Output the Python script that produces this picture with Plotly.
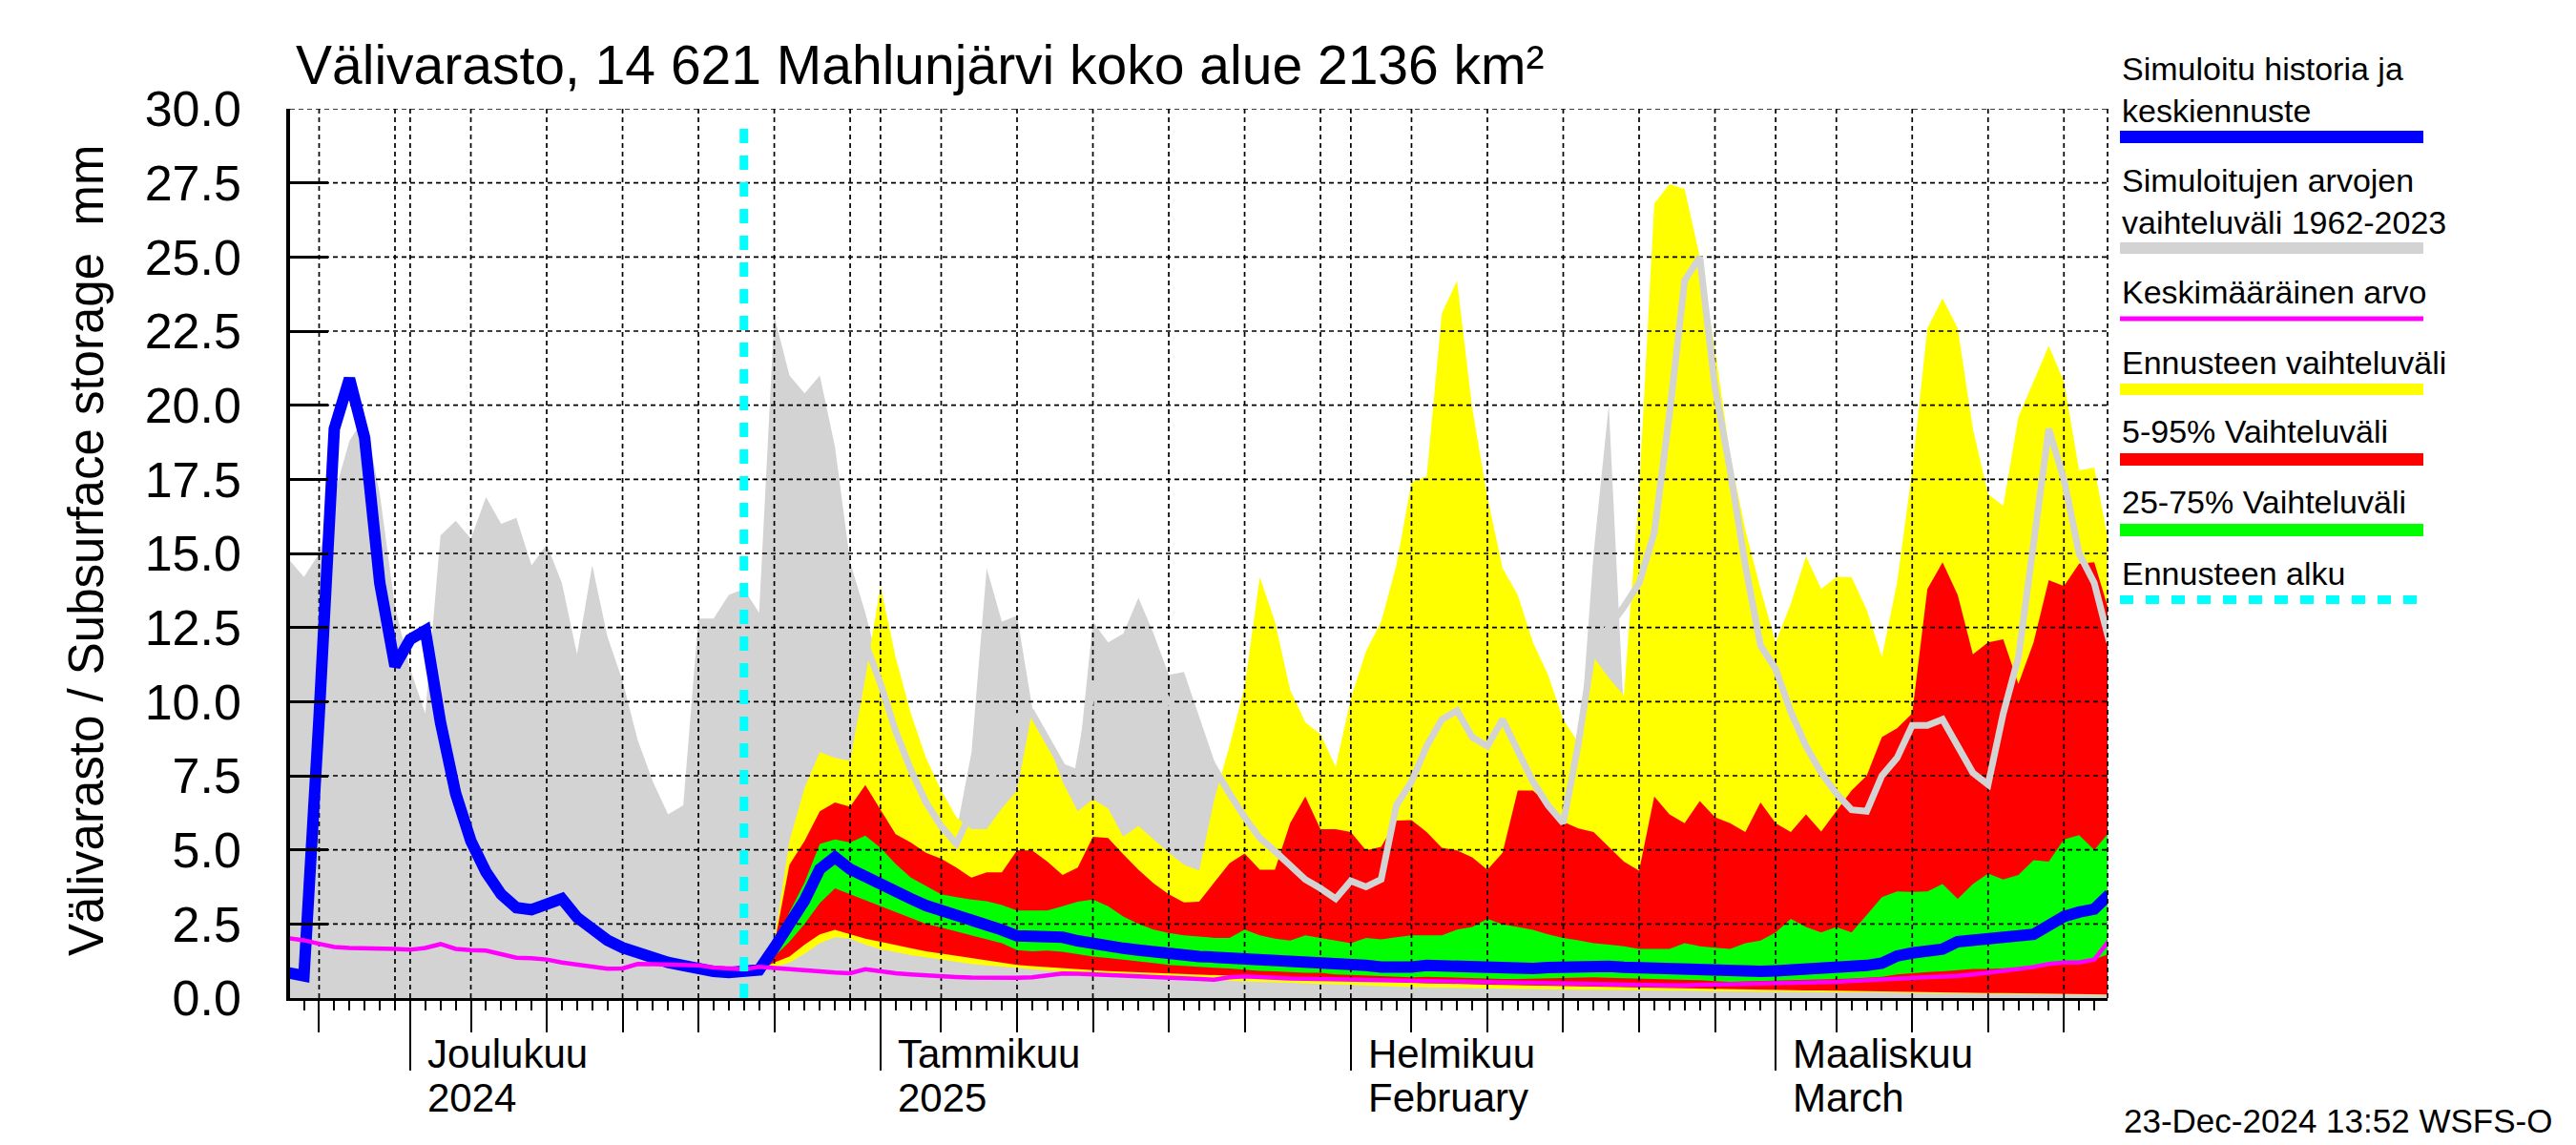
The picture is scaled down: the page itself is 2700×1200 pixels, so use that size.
import plotly.graph_objects as go
import pandas as pd

# ---------------- data ----------------
hist_start = "2024-11-23"          # daily values from this date
gray_upper = [  # historical range 1962-2023, upper edge (lower edge = 0)
    14.8, 14.2, 15.0, 17.0, 18.8, 19.6, 17.0, 13.2, 11.1, 9.6,
    15.6, 16.1, 15.5, 16.9, 16.0, 16.2, 14.6, 15.3, 14.0, 11.6,
    14.6, 12.2, 10.7, 8.7, 7.3, 6.2, 6.5, 12.8, 12.8, 13.6,
    13.8, 13.0, 23.0, 21.0, 20.4, 21.0, 18.6, 14.7, 13.0, 11.0,
    9.0, 7.2, 6.3, 5.8, 5.6, 8.3, 14.5, 12.7, 12.9, 9.8,
    8.8, 7.8, 7.7, 12.7, 12.0, 12.3, 13.5, 12.3, 10.9, 11.0,
    9.5, 8.0, 6.5, 6.0, 6.0, 6.0, 6.0, 6.0, 6.0, 6.0,
    6.0, 6.0, 6.0, 6.0, 6.0, 6.0, 6.0, 6.0, 6.0, 6.0,
    6.0, 6.0, 6.0, 6.0, 6.0, 8.0, 15.0, 20.0, 9.5, 6.0,
    6.0, 6.0, 6.0, 6.0, 6.0, 6.0, 6.0, 6.0, 6.0, 6.0,
    6.0, 6.0, 6.0, 6.0, 6.0, 6.0, 6.0, 6.0, 6.0, 6.0,
    6.0, 6.0, 6.0, 6.0, 6.0, 6.0, 6.0, 6.0, 6.0, 6.0,
    6.0,
]
median = [  # simulated history + median forecast
    0.85, 0.75, 9.5, 19.2, 20.9, 18.9, 14.0, 11.2, 12.1, 12.4,
    9.3, 6.9, 5.3, 4.25, 3.5, 3.05, 2.98, 3.2, 3.35, 2.72,
    2.3, 1.95, 1.7, 1.5, 1.33, 1.2, 1.1, 0.98, 0.9, 0.86,
    0.88, 0.95, 1.7, 2.55, 3.3, 4.35, 4.75, 4.35, 4.08, 3.85,
    3.6, 3.35, 3.12, 2.97, 2.82, 2.66, 2.48, 2.3, 2.1, 2.08,
    2.1, 2.05, 1.93, 1.82, 1.75, 1.68, 1.62, 1.55, 1.48, 1.44,
    1.4, 1.38, 1.36, 1.3, 1.27, 1.25, 1.22, 1.2, 1.2, 1.15,
    1.12, 1.1, 1.05, 1.03, 1.05, 1.1, 1.08, 1.05, 1.02, 1.0,
    0.99, 0.98, 1.0, 1.03, 1.05, 1.08, 1.1, 1.07, 1.04, 1.02,
    1.0, 0.99, 0.98, 0.95, 0.9, 0.87, 0.88, 0.9, 0.92, 0.94,
    0.96, 0.98, 1.02, 1.06, 1.1, 1.18, 1.42, 1.52, 1.58, 1.65,
    1.9, 1.96, 1.94, 2.0, 2.06, 2.15, 2.45, 2.75, 2.9, 3.0,
    3.5,
]
mean_value = [  # long-term mean
    2.02, 1.95, 1.83, 1.72, 1.69, 1.69, 1.69, 1.66, 1.63, 1.69,
    1.82, 1.66, 1.62, 1.6, 1.48, 1.36, 1.34, 1.3, 1.2, 1.12,
    1.06, 0.99, 1.0, 1.15, 1.14, 1.13, 1.12, 1.1, 1.03, 0.99,
    0.97, 1.05, 1.02, 0.98, 0.93, 0.9, 0.86, 0.84, 0.97, 0.9,
    0.84, 0.8, 0.76, 0.73, 0.71, 0.69, 0.68, 0.68, 0.68, 0.7,
    0.76, 0.83, 0.82, 0.81, 0.79, 0.76, 0.73, 0.7, 0.68, 0.66,
    0.64, 0.62, 0.7, 0.73, 0.7, 0.68, 0.66, 0.65, 0.64, 0.63,
    0.62, 0.61, 0.6, 0.59, 0.58, 0.57, 0.56, 0.55, 0.55, 0.53,
    0.52, 0.51, 0.5, 0.48, 0.47, 0.46, 0.45, 0.45, 0.44, 0.44,
    0.43, 0.43, 0.43, 0.44, 0.45, 0.45, 0.46, 0.48, 0.5, 0.51,
    0.52, 0.53, 0.55, 0.58, 0.6, 0.64, 0.66, 0.67, 0.68, 0.7,
    0.75, 0.8, 0.85, 0.92, 0.98, 1.05, 1.15, 1.2, 1.2, 1.3,
    1.95,
]

fc_start = "2024-12-23"            # forecast start, daily values from this date
yellow_low = [
    0.88, 0.93, 1.05, 1.2, 1.5, 1.85, 2.05, 2.0, 1.8, 1.65,
    1.55, 1.45, 1.38, 1.3, 1.22, 1.15, 1.1, 1.05, 1.0, 0.97,
    0.93, 0.9, 0.87, 0.84, 0.8, 0.77, 0.73, 0.69, 0.65, 0.63,
    0.61, 0.6, 0.58, 0.56, 0.55, 0.53, 0.51, 0.49, 0.47, 0.46,
    0.44, 0.42, 0.4, 0.38, 0.37, 0.36, 0.35, 0.34, 0.33, 0.32,
    0.31, 0.3, 0.3, 0.3, 0.29, 0.28, 0.28, 0.27, 0.27, 0.26,
    0.26, 0.25, 0.25, 0.24, 0.24, 0.23, 0.23, 0.22, 0.22, 0.21,
    0.21, 0.2, 0.2, 0.19, 0.19, 0.18, 0.18, 0.17, 0.17, 0.16,
    0.16, 0.15, 0.15, 0.14, 0.14, 0.13, 0.13, 0.12, 0.12, 0.11,
    0.11,
]
yellow_up = [
    0.88, 0.95, 1.9, 5.3, 7.1, 8.3, 8.1, 8.0, 10.8, 13.9,
    11.5, 9.6, 8.1, 7.0, 6.1, 5.7, 5.7, 6.4, 7.0, 9.7,
    8.7, 7.3, 6.3, 6.7, 6.4, 5.45, 5.8, 5.35, 4.9, 4.5,
    4.3, 6.7, 8.5, 10.5, 14.2, 12.7, 10.4, 9.3, 8.9, 7.8,
    10.1, 11.7, 12.7, 14.6, 17.4, 17.6, 23.1, 24.2, 19.9, 16.9,
    14.5, 13.6, 12.0, 10.9, 9.4, 8.6, 11.5, 10.8, 10.2, 17.1,
    26.8, 27.46, 27.3, 25.0, 21.9, 18.3, 15.8, 13.8, 12.0, 13.3,
    14.9, 13.8, 14.2, 14.2, 13.1, 11.5, 14.0, 17.8, 22.6, 23.6,
    22.6, 19.2, 17.0, 16.6, 19.6, 20.8, 22.0, 20.8, 17.8, 17.9,
    15.2,
]
red_low = [
    0.88, 0.94, 1.2, 1.4, 1.8, 2.15, 2.3, 2.15, 2.0, 1.9,
    1.78, 1.68, 1.58, 1.5, 1.42, 1.35, 1.28, 1.2, 1.12, 1.08,
    1.04, 1.0, 0.97, 0.94, 0.91, 0.89, 0.87, 0.85, 0.83, 0.8,
    0.78, 0.76, 0.74, 0.72, 0.7, 0.68, 0.66, 0.64, 0.62, 0.6,
    0.58, 0.56, 0.55, 0.53, 0.52, 0.5, 0.49, 0.47, 0.46, 0.45,
    0.44, 0.43, 0.42, 0.41, 0.4, 0.39, 0.38, 0.37, 0.36, 0.35,
    0.35, 0.34, 0.33, 0.32, 0.31, 0.3, 0.3, 0.29, 0.28, 0.27,
    0.26, 0.26, 0.25, 0.24, 0.23, 0.23, 0.22, 0.21, 0.2, 0.2,
    0.19, 0.18, 0.17, 0.17, 0.16, 0.15, 0.14, 0.14, 0.13, 0.12,
    0.12,
]
red_up = [
    0.88, 0.95, 1.8, 4.5, 5.3, 6.3, 6.6, 6.45, 7.19, 6.36,
    5.53, 5.25, 4.9, 4.7, 4.4, 4.06, 4.24, 4.24, 4.98, 4.98,
    4.6, 4.15, 4.4, 5.44, 5.4, 4.85, 4.33, 3.87, 3.5, 3.23,
    3.25, 3.9, 4.55, 4.88, 4.33, 4.33, 5.9, 6.8, 5.7, 5.7,
    5.6, 4.98, 5.1, 5.99, 6.0, 5.6, 5.07, 4.98, 4.75, 4.33,
    4.9, 7.0, 7.0, 6.54, 5.95, 5.72, 5.6, 5.1, 4.6, 4.3,
    6.8, 6.2, 5.9, 6.65, 6.1, 5.9, 5.6, 6.6, 5.9, 5.6,
    6.2, 5.62, 6.3, 7.0, 7.5, 8.8, 9.1, 9.6, 13.8, 14.7,
    13.6, 11.6, 12.0, 12.1, 10.6, 12.0, 14.1, 13.9, 14.65, 14.7,
    13.0,
]
green_low = [
    0.88, 0.94, 1.4, 1.9, 2.5, 3.2, 3.7, 3.5, 3.3, 3.1,
    2.9, 2.7, 2.5, 2.38, 2.25, 2.12, 1.98, 1.85, 1.62, 1.58,
    1.6, 1.56, 1.48, 1.4, 1.35, 1.3, 1.25, 1.18, 1.12, 1.08,
    1.05, 1.02, 1.0, 0.95, 0.92, 0.9, 0.87, 0.85, 0.85, 0.8,
    0.78, 0.76, 0.72, 0.7, 0.7, 0.72, 0.7, 0.68, 0.66, 0.65,
    0.64, 0.64, 0.65, 0.66, 0.67, 0.68, 0.7, 0.68, 0.66, 0.65,
    0.64, 0.63, 0.62, 0.6, 0.57, 0.55, 0.56, 0.57, 0.58, 0.6,
    0.61, 0.62, 0.64, 0.66, 0.68, 0.72, 0.8, 0.85, 0.88, 0.9,
    0.95, 0.98, 0.98, 1.0, 1.02, 1.05, 1.1, 1.2, 1.25, 1.3,
    1.5,
]
green_up = [
    0.88, 0.95, 1.75, 2.9, 3.9, 5.2, 5.35, 5.25, 5.48, 5.07,
    4.52, 4.06, 3.78, 3.5, 3.4, 3.32, 3.27, 3.14, 2.95, 2.95,
    2.95, 3.1, 3.25, 3.32, 3.1, 2.75, 2.5, 2.31, 2.2, 2.12,
    2.07, 2.03, 2.03, 2.31, 2.12, 2.0, 1.94, 2.12, 2.03, 1.95,
    1.85, 2.03, 1.98, 2.05, 2.12, 2.12, 2.12, 2.31, 2.4, 2.67,
    2.49, 2.4, 2.3, 2.15, 2.03, 1.95, 1.85, 1.8, 1.75, 1.66,
    1.66, 1.66, 1.85, 1.75, 1.7, 1.66, 1.85, 1.94, 2.21, 2.67,
    2.4, 2.21, 2.4, 2.21, 2.8, 3.4, 3.6, 3.58, 3.6, 3.85,
    3.35, 3.85, 4.2, 4.0, 4.15, 4.65, 4.6, 5.35, 5.5, 5.0,
    5.6,
]
ref_line_start = "2024-12-31"       # light gray reference line in forecast period
ref_line = [
    12.0, 10.6, 9.0, 7.7, 6.6, 5.8, 5.2, 6.3, 7.0, 8.3,
    9.5, 9.6, 8.7, 7.8, 7.6, 10.5, 10.8, 11.0, 11.2, 10.8,
    10.0, 9.5, 8.6, 7.8, 6.9, 6.1, 5.4, 4.95, 4.5, 4.0,
    3.7, 3.35, 3.95, 3.75, 4.0, 6.5, 7.3, 8.5, 9.4, 9.7,
    8.8, 8.5, 9.4, 8.4, 7.3, 6.5, 5.9, 8.6, 11.9, 12.5,
    13.2, 14.0, 15.7, 19.7, 24.2, 25.0, 20.6, 17.8, 14.6, 11.9,
    11.1, 9.65, 8.5, 7.6, 6.9, 6.35, 6.3, 7.5, 8.1, 9.2,
    9.2, 9.4, 8.5, 7.6, 7.2, 9.6, 11.5, 15.5, 19.2, 17.5,
    15.0, 14.0, 12.0,
]
forecast_line_top = 29.6

y_ticks = [0.0, 2.5, 5.0, 7.5, 10.0, 12.5, 15.0, 17.5, 20.0, 22.5, 25.0, 27.5, 30.0]
month_ticks = ["2024-12-01", "2025-01-01", "2025-02-01", "2025-03-01"]
month_labels_1 = ["Joulukuu", "Tammikuu", "Helmikuu", "Maaliskuu"]
month_labels_2 = ["2024", "2025", "February", "March"]
x_range = ["2024-11-23 02:00", "2025-03-22 21:00"]

title_text = "Välivarasto, 14 621 Mahlunjärvi koko alue 2136 km²"
ytitle_text = "Välivarasto / Subsurface storage\u00a0 mm"
stamp_text = "23-Dec-2024 13:52 WSFS-O"
legend_labels = ["Simuloitu historia ja<br>keskiennuste",
                 "Simuloitujen arvojen<br>vaihteluväli 1962-2023",
                 "Keskimääräinen arvo",
                 "Ennusteen vaihteluväli",
                 "5-95% Vaihteluväli",
                 "25-75% Vaihteluväli",
                 "Ennusteen alku"]

# ---------------- style ----------------
GRAY, YELLOW, RED, GREEN = "#D3D3D3", "#FFFF00", "#FF0000", "#00FF00"
BLUE, MAGENTA, CYAN = "#0000FF", "#FF00FF", "#00FFFF"
legend_colors = [BLUE, GRAY, MAGENTA, YELLOW, RED, GREEN, CYAN]
FONT = "Liberation Sans, Arial, Helvetica, sans-serif"

W, H = 2700, 1200
L, R, T, B = 304, 2209, 114, 1046      # plot area in px
def pxx(x): return (x - L) / (R - L)
def pxy(y): return (B - y) / (B - T)

# ---------------- ticks / grid positions ----------------
months = pd.date_range("2024-11-01", "2025-03-01", freq="MS")
lo, hi = pd.Timestamp(x_range[0]), pd.Timestamp(x_range[1])
medium_ticks = [m + pd.Timedelta(days=d - 1) for m in months for d in (5, 10, 15, 20, 25)]
medium_ticks = [d for d in medium_ticks if lo <= d <= hi]
grid_dates = []
for m in months:
    for d in (1, 5, 10, 15, 20, 25, 30):
        dt = m + pd.Timedelta(days=d - 1)
        if dt.month == m.month and lo <= dt <= hi:
            grid_dates.append(dt)

hist_dates = pd.date_range(hist_start, periods=len(gray_upper), freq="D")
fc_dates = pd.date_range(fc_start, periods=len(yellow_up), freq="D")
ref_dates = pd.date_range(ref_line_start, periods=len(ref_line), freq="D")

fig = go.Figure()
# historical range
fig.add_trace(go.Scatter(x=hist_dates, y=gray_upper, mode="lines", line=dict(width=0),
                         fill="tozeroy", fillcolor=GRAY, hoverinfo="skip"))
# forecast bands
for low, up, col in [(yellow_low, yellow_up, YELLOW), (red_low, red_up, RED), (green_low, green_up, GREEN)]:
    fig.add_trace(go.Scatter(x=fc_dates, y=low, mode="lines", line=dict(width=0), hoverinfo="skip"))
    fig.add_trace(go.Scatter(x=fc_dates, y=up, mode="lines", line=dict(width=0),
                             fill="tonexty", fillcolor=col, hoverinfo="skip"))
# dashed grid (drawn over the areas)
gx, gy = [], []
for d in grid_dates:
    gx += [d, d, None]; gy += [y_ticks[0], y_ticks[-1], None]
for v in y_ticks[1:]:
    gx += [lo, hi, None]; gy += [v, v, None]
fig.add_trace(go.Scatter(x=gx, y=gy, mode="lines", line=dict(color="black", width=1.7, dash="5px,4px"),
                         hoverinfo="skip", connectgaps=False))
# lines
fig.add_trace(go.Scatter(x=ref_dates, y=ref_line, mode="lines", line=dict(color=GRAY, width=7), hoverinfo="skip"))
fig.add_trace(go.Scatter(x=hist_dates, y=median, mode="lines", line=dict(color=BLUE, width=12), hoverinfo="skip"))
fig.add_trace(go.Scatter(x=hist_dates, y=mean_value, mode="lines", line=dict(color=MAGENTA, width=4.5), hoverinfo="skip"))
fig.add_trace(go.Scatter(x=[fc_start, fc_start], y=[0, forecast_line_top], mode="lines",
                         line=dict(color=CYAN, width=9, dash="15px,13px"), hoverinfo="skip"))
# dummy trace to host the medium-tick axis
fig.add_trace(go.Scatter(x=[lo], y=[None], xaxis="x2", mode="lines", hoverinfo="skip"))

fig.update_layout(
    width=W, height=H, showlegend=False,
    margin=dict(l=L, r=W - R, t=T, b=H - B, pad=0),
    paper_bgcolor="white", plot_bgcolor="white",
    font=dict(family=FONT, color="black"),
    xaxis=dict(type="date", range=x_range, tickmode="array", tickvals=month_ticks,
               ticks="outside", ticklen=73, tickwidth=1.7, tickcolor="black", showticklabels=False,
               showline=True, linewidth=3, linecolor="black", automargin=False,
               showgrid=False, zeroline=False,
               minor=dict(ticks="outside", ticklen=10, tickwidth=1.7, tickcolor="black",
                          dtick=86400000, tick0="2024-11-23", showgrid=False)),
    xaxis2=dict(type="date", range=x_range, overlaying="x", anchor="y", side="bottom", automargin=False,
                tickmode="array", tickvals=medium_ticks, ticks="outside", ticklen=35, tickwidth=1.7,
                tickcolor="black", showticklabels=False, showgrid=False, zeroline=False, showline=False),
    yaxis=dict(range=[0, 30], tickmode="array", tickvals=y_ticks, ticktext=[f"{v:.1f}" for v in y_ticks],
               ticks="inside", ticklen=40, tickwidth=3.4, tickcolor="black", automargin=False,
               showline=True, linewidth=3.5, linecolor="black", showgrid=False, zeroline=False,
               tickfont=dict(size=52, family=FONT), ticklabelstandoff=37),
)

# right frame (dashed)
fig.add_shape(type="line", xref="x domain", yref="y domain", x0=1, x1=1, y0=0, y1=1,
              line=dict(color="black", width=1.7, dash="5px,4px"))

ann = []
ann.append(dict(text=title_text, xref="paper", yref="paper", x=pxx(308), y=pxy(68),
                xanchor="left", yanchor="middle", showarrow=False, font=dict(size=57)))
ann.append(dict(text=ytitle_text, xref="paper", yref="paper", x=pxx(90), y=pxy(577), textangle=-90,
                xanchor="center", yanchor="middle", showarrow=False, font=dict(size=51)))
ann.append(dict(text=stamp_text, xref="paper", yref="paper", x=pxx(2224), y=pxy(1174),
                xanchor="left", yanchor="middle", showarrow=False, font=dict(size=35)))
# month labels (two lines, left-aligned just right of the month tick)
for mt, l1, l2 in zip(month_ticks, month_labels_1, month_labels_2):
    for txt, yy in ((l1, 1104), (l2, 1150)):
        ann.append(dict(text=txt, xref="x", yref="paper", x=mt, y=pxy(yy), xshift=16,
                        xanchor="left", yanchor="middle", showarrow=False, font=dict(size=42)))

legend_text_y = [94, 210.5, 306, 380, 452, 526, 601]
legend_bar_y = [143.5, 260, 334, 408, 481.5, 555.5, 628.5]
legend_bar_w = [13, 12, 5, 12, 13, 13, 9]
for i, (lab, col) in enumerate(zip(legend_labels, legend_colors)):
    ann.append(dict(text=lab, xref="paper", yref="paper", x=pxx(2222), y=pxy(legend_text_y[i]),
                    xanchor="left", yanchor="middle", align="left", showarrow=False, font=dict(size=34)))
    fig.add_shape(type="line", xref="paper", yref="paper", x0=pxx(2222), x1=pxx(2540),
                  y0=pxy(legend_bar_y[i]), y1=pxy(legend_bar_y[i]),
                  line=dict(color=col, width=legend_bar_w[i], dash="14px,13px" if col == CYAN else "solid"))
fig.update_layout(annotations=ann)

fig.write_html("out.html", config={"displayModeBar": False},
               post_script="document.body.style.margin='0';document.body.style.overflow='hidden';")
